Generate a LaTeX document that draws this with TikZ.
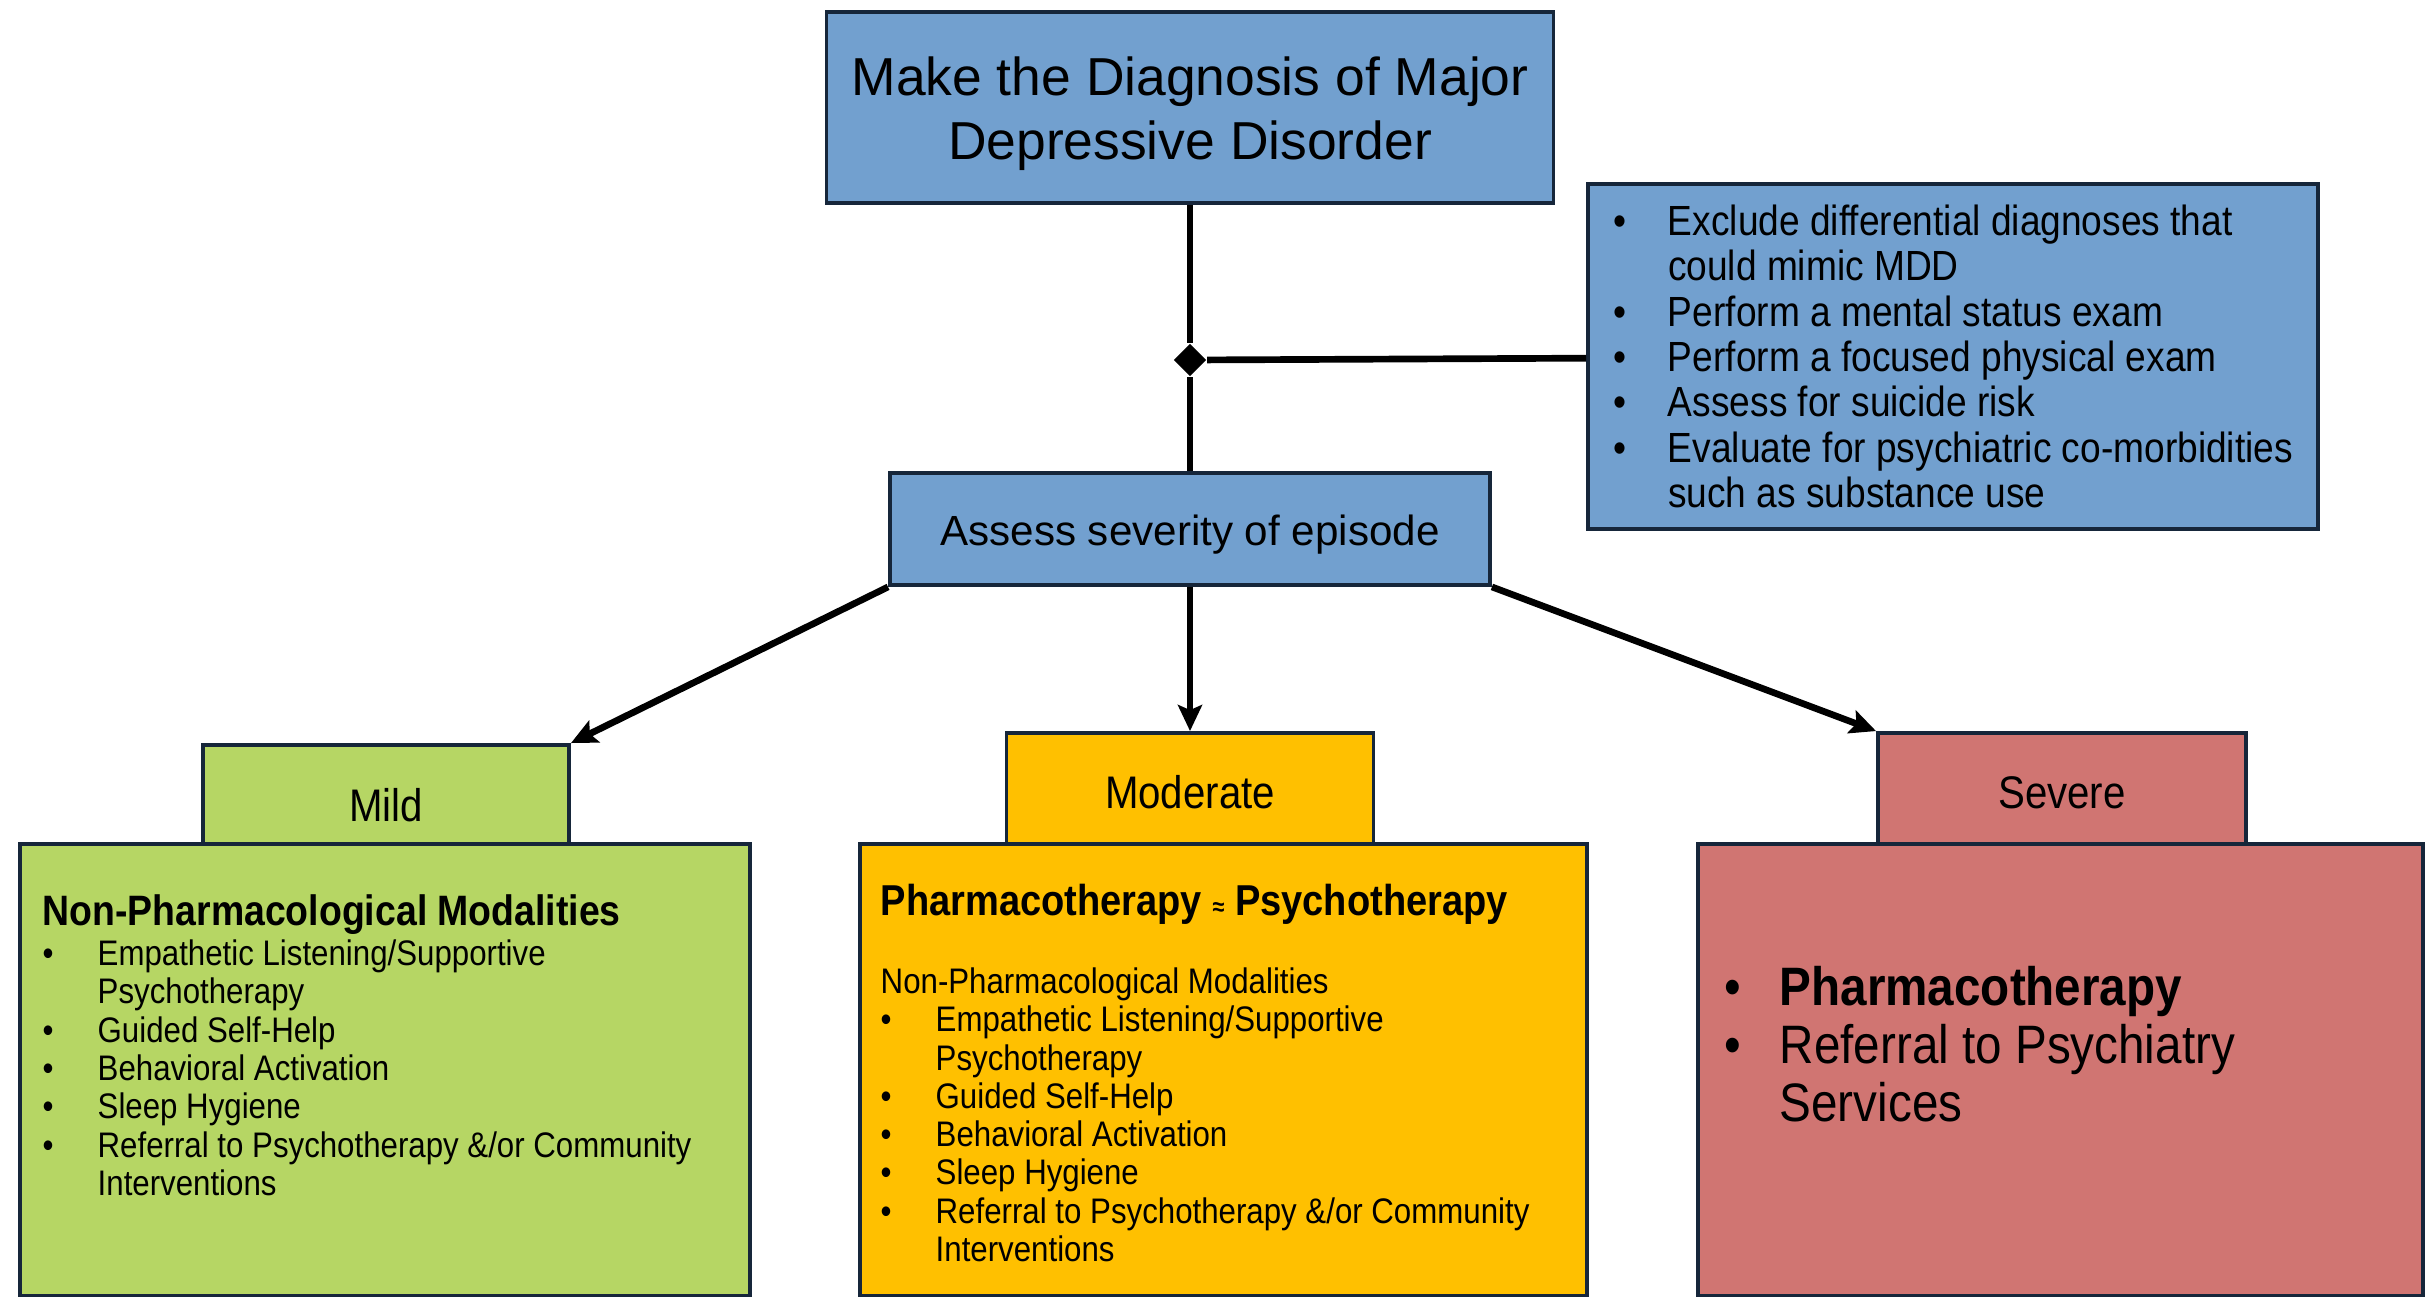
\documentclass[tikz,border=0pt]{standalone}
\usepackage{fontspec}
\setmainfont{Liberation Sans}
\newfontfamily\narrowfont[FakeStretch=0.88]{Liberation Sans}
\usetikzlibrary{shapes.geometric,arrows.meta}
\definecolor{mddblue}{RGB}{114,160,207}
\definecolor{mddgreen}{RGB}{182,214,100}
\definecolor{mddorange}{RGB}{255,192,0}
\definecolor{mddred}{RGB}{208,117,114}
\definecolor{mddedge}{RGB}{22,38,58}
\newcommand{\bul}{\makebox[0.55cm][l]{\textbullet}}
\newcommand{\ind}{\hspace*{0.55cm}}
\tikzset{
  box/.style={draw=mddedge, line width=1.1pt, inner sep=0pt},
  conn/.style={black, line width=1.9pt},
  arr/.style={conn, -{Stealth[length=0.26cm, width=0.24cm, inset=0.05cm]}},
  listtext/.style={anchor=north west, inner sep=0pt, align=left},
  headlabel/.style={font=\narrowfont\fontsize{13}{15}\selectfont, text height=11.3pt, text depth=0pt}
}

\begin{document}
\begin{tikzpicture}
  \useasboundingbox (0,0) rectangle (24.25,-12.96);
  \node[box, fill=mddblue, minimum width=7.27cm, minimum height=1.91cm, align=center,
    font=\fontsize{15.2}{18}\selectfont] (diag) at (11.90,-1.075) {\rule{0pt}{14.5pt}Make the Diagnosis of Major\\Depressive Disorder};
  \node[box, fill=mddblue, minimum width=7.30cm, minimum height=3.45cm, align=left,
    font=\narrowfont\fontsize{12}{12.9}\selectfont] (exclude) at (19.53,-3.565)
    {\bul Exclude differential diagnoses that\\
     \ind could mimic MDD\\
     \bul Perform a mental status exam\\
     \bul Perform a focused physical exam\\
     \bul Assess for suicide risk\\
     \bul Evaluate for psychiatric co-morbidities\\
     \ind such as substance use};
  \node[box, fill=mddblue, minimum width=6.00cm, minimum height=1.12cm, text height=12.2pt, text depth=2.6pt,
    font=\fontsize{12}{14}\selectfont] (assess) at (11.90,-5.29) {Assess severity of episode};
  \node[diamond, fill=black, inner sep=0pt, minimum size=0.33cm] (joint) at (11.90,-3.60) {};

  \node[box, fill=mddgreen, minimum width=7.30cm, minimum height=4.52cm] (mildbody) at (3.85,-10.70) {};
  \node[box, fill=mddgreen, minimum width=3.66cm, minimum height=0.99cm, headlabel, text height=15.5pt] (mildhead) at (3.86,-7.945) {Mild};
  \node[box, fill=mddorange, minimum width=7.27cm, minimum height=4.52cm] (modbody) at (12.235,-10.70) {};
  \node[box, fill=mddorange, minimum width=3.67cm, minimum height=1.11cm, headlabel] (modhead) at (11.90,-7.885) {Moderate};
  \node[box, fill=mddred, minimum width=7.25cm, minimum height=4.52cm] (sevbody) at (20.605,-10.70) {};
  \node[box, fill=mddred, minimum width=3.68cm, minimum height=1.11cm, headlabel] (sevhead) at (20.62,-7.885) {Severe};

  \node[listtext, font=\narrowfont\fontsize{10.1}{10.9}\selectfont] (mildtext) at (0.42,-8.94)
    {{\bfseries\fontsize{12.1}{13}\selectfont Non-Pharmacological Modalities}\\[0.5pt]
     \bul Empathetic Listening/Supportive\\
     \ind Psychotherapy\\
     \bul Guided Self-Help\\
     \bul Behavioral Activation\\
     \bul Sleep Hygiene\\
     \bul Referral to Psychotherapy \&/or Community\\
     \ind Interventions};
  \node[listtext, font=\narrowfont\fontsize{10.1}{10.9}\selectfont] (modtext) at (8.80,-8.83)
    {{\bfseries\fontsize{12.3}{13}\selectfont Pharmacotherapy {\fontsize{7}{7}\selectfont ≈} Psychotherapy}\\[11.4pt]
     Non-Pharmacological Modalities\\
     \bul Empathetic Listening/Supportive\\
     \ind Psychotherapy\\
     \bul Guided Self-Help\\
     \bul Behavioral Activation\\
     \bul Sleep Hygiene\\
     \bul Referral to Psychotherapy \&/or Community\\
     \ind Interventions};
  \node[listtext, font=\narrowfont\fontsize{15.4}{16.5}\selectfont] (sevtext) at (17.24,-9.655)
    {\bul\textbf{Pharmacotherapy}\\
     \bul Referral to Psychiatry\\
     \ind Services};

  \draw[conn] (diag) -- (joint) -- (assess);
  \draw[conn] (joint) -- (exclude);
  \draw[arr] (assess.south west) -- (mildhead.north east);
  \draw[arr] (assess) -- (modhead);
  \draw[arr] (assess.south east) -- (sevhead.north west);
\end{tikzpicture}
\end{document}
